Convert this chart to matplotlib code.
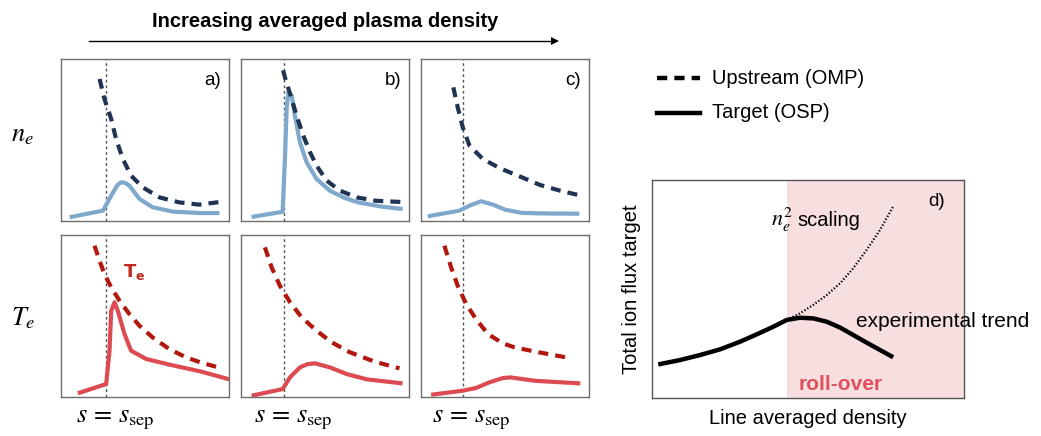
import numpy as np
import matplotlib.pyplot as plt
from matplotlib.lines import Line2D

plt.rcParams['font.family'] = ['Liberation Sans', 'DejaVu Sans']
plt.rcParams['mathtext.fontset'] = 'stix'

# separatrix position in each column (axes units)
s_sep = [0.265, 0.255, 0.247]

# density profiles: upstream (dashed) and target (solid)
ne_up_x = [[0.229, 0.258, 0.298, 0.327, 0.367, 0.416, 0.485, 0.584, 0.702, 0.82, 0.94],
           [0.25, 0.261, 0.301, 0.33, 0.37, 0.41, 0.449, 0.509, 0.588, 0.687, 0.80, 0.96],
           [0.192, 0.218, 0.248, 0.288, 0.367, 0.47, 0.589, 0.708, 0.827, 0.936]]
ne_up_y = [[0.877, 0.753, 0.63, 0.506, 0.383, 0.28, 0.208, 0.146, 0.115, 0.101, 0.117],
           [0.93, 0.887, 0.753, 0.65, 0.527, 0.424, 0.341, 0.249, 0.187, 0.146, 0.125, 0.117],
           [0.825, 0.702, 0.578, 0.465, 0.383, 0.325, 0.274, 0.222, 0.187, 0.16]]
ne_tg_x = [[0.051, 0.249, 0.298, 0.335, 0.357, 0.38, 0.406, 0.466, 0.544, 0.663, 0.828, 0.94],
           [0.063, 0.247, 0.261, 0.271, 0.281, 0.301, 0.32, 0.35, 0.39, 0.449, 0.528,
            0.607, 0.694, 0.84, 0.96],
           [0.04, 0.228, 0.288, 0.357, 0.43, 0.5, 0.6, 0.708, 0.94]]
ne_tg_y = [[0.023, 0.064, 0.156, 0.222, 0.239, 0.236, 0.218, 0.136, 0.085, 0.058, 0.049, 0.049],
           [0.025, 0.057, 0.383, 0.691, 0.794, 0.774, 0.65, 0.486, 0.362, 0.259, 0.187,
            0.146, 0.115, 0.088, 0.074],
           [0.029, 0.064, 0.095, 0.122, 0.1, 0.07, 0.05, 0.047, 0.045]]

# temperature profiles: upstream (dashed) and target (solid)
te_up_x = [[0.199, 0.229, 0.258, 0.298, 0.347, 0.406, 0.466, 0.544, 0.643, 0.742, 0.828, 0.932],
           [0.142, 0.182, 0.231, 0.291, 0.36, 0.449, 0.538, 0.647, 0.794, 0.941],
           [0.139, 0.179, 0.218, 0.268, 0.327, 0.397, 0.486, 0.554, 0.678, 0.861]]
te_up_y = [[0.934, 0.841, 0.759, 0.677, 0.595, 0.512, 0.44, 0.368, 0.296, 0.245, 0.214, 0.183],
           [0.924, 0.8, 0.687, 0.585, 0.492, 0.409, 0.338, 0.276, 0.218, 0.177],
           [0.934, 0.8, 0.687, 0.574, 0.481, 0.389, 0.331, 0.307, 0.28, 0.245]]
te_tg_x = [[0.1, 0.268, 0.288, 0.298, 0.318, 0.337, 0.377, 0.416, 0.505, 0.643, 0.828, 1.0],
           [0.063, 0.247, 0.291, 0.35, 0.395, 0.439, 0.528, 0.627, 0.748, 0.959],
           [0.06, 0.248, 0.327, 0.407, 0.486, 0.53, 0.68, 0.946]]
te_tg_y = [[0.023, 0.08, 0.286, 0.533, 0.585, 0.533, 0.389, 0.286, 0.235, 0.2, 0.158, 0.109],
           [0.008, 0.049, 0.122, 0.183, 0.203, 0.208, 0.183, 0.142, 0.109, 0.084],
           [0.014, 0.039, 0.056, 0.091, 0.117, 0.121, 0.1, 0.084]]

panel_tags = ['a)', 'b)', 'c)']

# ion flux vs line averaged density
flux_x = [0.02, 0.09, 0.154, 0.218, 0.282, 0.336, 0.389, 0.432, 0.474, 0.517,
          0.56, 0.603, 0.645, 0.688, 0.731, 0.773]
flux_y = [0.154, 0.174, 0.197, 0.223, 0.258, 0.292, 0.327, 0.358, 0.368, 0.365,
          0.35, 0.323, 0.289, 0.254, 0.22, 0.187]
scaling_x = [0.432, 0.474, 0.517, 0.56, 0.603, 0.645, 0.688, 0.731, 0.773]
scaling_y = [0.358, 0.388, 0.427, 0.472, 0.526, 0.595, 0.679, 0.771, 0.878]
rollover_start = 0.433

navy = '#1f3352'
lightblue = '#7fa9cc'
darkred = '#b2170d'
red = '#dc4b52'
spine_col = '#6e6e6e'

fig = plt.figure(figsize=(10.41, 4.36), dpi=100)

lefts = [0.0586, 0.2315, 0.4044]
w, h = 0.1618, 0.3716
rows = [0.4931, 0.0894]

dash = (0, (2.4, 1.7))
for i in range(3):
    for r, (ux, uy, tx, ty, cu, ct) in enumerate([
            (ne_up_x[i], ne_up_y[i], ne_tg_x[i], ne_tg_y[i], navy, lightblue),
            (te_up_x[i], te_up_y[i], te_tg_x[i], te_tg_y[i], darkred, red)]):
        ax = fig.add_axes([lefts[i], rows[r], w, h])
        ax.set_xlim(0, 1)
        ax.set_ylim(0, 1)
        ax.set_xticks([])
        ax.set_yticks([])
        for sp in ax.spines.values():
            sp.set_color(spine_col)
            sp.set_linewidth(1.0)
        ax.axvline(s_sep[i], color='#555555', lw=1.0, ls=(0, (2, 2)))
        ax.plot(tx, ty, color=ct, lw=3.0, solid_joinstyle='round',
                solid_capstyle='butt')
        ax.plot(ux, uy, color=cu, lw=3.0, ls=dash)
        if r == 0:
            ax.text(0.95, 0.87, panel_tags[i], ha='right', va='center', fontsize=13.5)
        else:
            ax.text(s_sep[i] + 0.055, -0.14, r'$s\,=\,s_{\mathrm{sep}}$',
                    transform=ax.transAxes, ha='center', va='center', fontsize=19)
        if r == 1 and i == 0:
            ax.text(0.367, 0.77, r'$\mathbf{T_e}$', color='#c0281c', fontsize=13,
                    ha='left', va='center', math_fontfamily='dejavusans')

fig.text(0.022, 0.69, r'$n_e$', fontsize=19, ha='center', va='center')
fig.text(0.022, 0.27, r'$T_e$', fontsize=19, ha='center', va='center')

fig.text(0.312, 0.95, 'Increasing averaged plasma density', fontsize=14.5,
         fontweight='bold', ha='center', va='center')
fig.add_artist(Line2D([0.0855, 0.531], [0.906, 0.906], color='black', lw=1.0))
fig.add_artist(Line2D([0.533], [0.906], marker='>', color='black', markersize=6,
                      markeredgewidth=0))

# legend
fig.add_artist(Line2D([0.631, 0.672], [0.821, 0.821], color='black', lw=3.2,
                      ls=(0, (2.3, 1.6))))
fig.add_artist(Line2D([0.631, 0.672], [0.741, 0.741], color='black', lw=3.2))
fig.text(0.684, 0.821, 'Upstream (OMP)', fontsize=14.5, ha='left', va='center')
fig.text(0.684, 0.741, 'Target (OSP)', fontsize=14.5, ha='left', va='center')

# panel d
axd = fig.add_axes([0.6263, 0.0872, 0.2997, 0.5])
axd.set_xlim(0, 1)
axd.set_ylim(0, 1)
axd.set_xticks([])
axd.set_yticks([])
for sp in axd.spines.values():
    sp.set_color('#555555')
    sp.set_linewidth(1.0)
axd.axvspan(rollover_start, 1, color='#f7dfe0', lw=0)
axd.plot(scaling_x, scaling_y, color='black', lw=1.6, ls=(0, (0.6, 0.9)))
axd.plot(flux_x, flux_y, color='black', lw=3.2, solid_capstyle='butt',
         solid_joinstyle='round')
axd.text(0.94, 0.9, 'd)', fontsize=13.5, ha='right', va='center')
axd.text(0.383, 0.815, r'$n_e^2$', fontsize=16, ha='left', va='center')
axd.text(0.465, 0.815, 'scaling', fontsize=14.5, ha='left', va='center')
axd.text(0.654, 0.35, 'experimental trend', fontsize=15, ha='left', va='center',
         clip_on=False)
axd.text(0.47, 0.06, 'roll-over', fontsize=15, fontweight='bold', color='#e0505c',
         ha='left', va='center')
axd.set_xlabel('Line averaged density', fontsize=14.5, labelpad=8)
axd.set_ylabel('Total ion flux target', fontsize=14.5, labelpad=8)

fig.savefig('out.png', dpi=100)
